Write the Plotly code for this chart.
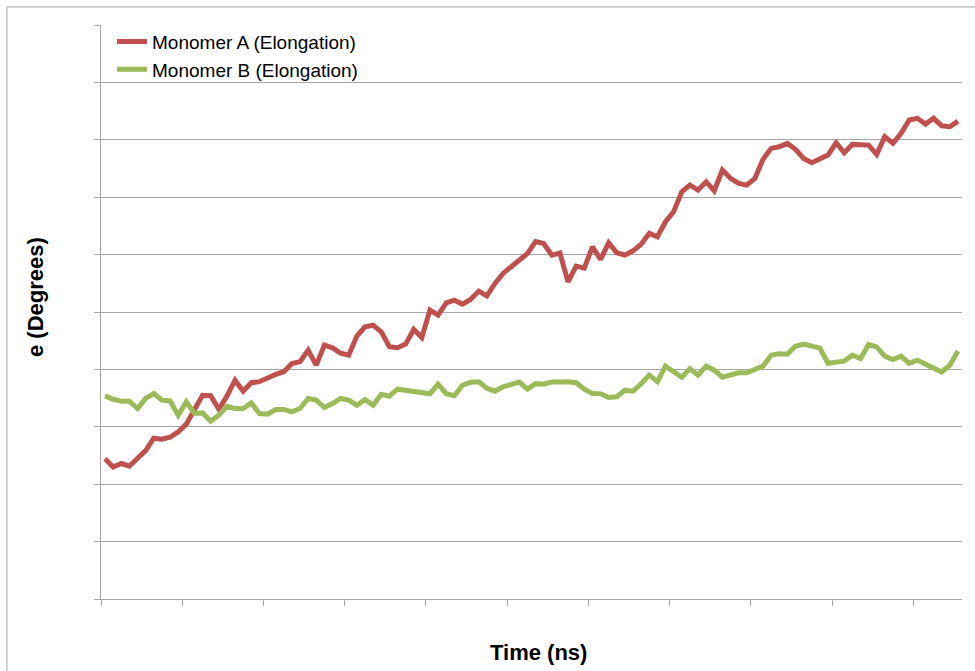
import plotly.graph_objects as go

# Time index (frames) along the category axis
time_idx = list(range(1, 107))

# Elongation angle e (degrees) per frame
monomer_a = [
    12.22, 11.50, 11.80, 11.57, 12.26, 12.92, 14.01, 13.92, 14.09, 14.55,
    15.23, 16.45, 17.75, 17.71, 16.53, 17.67, 19.06, 18.10, 18.84, 18.93,
    19.28, 19.56, 19.80, 20.52, 20.67, 21.67, 20.37, 22.11, 21.88, 21.41,
    21.24, 22.90, 23.71, 23.85, 23.27, 21.98, 21.89, 22.20, 23.48, 22.78,
    25.16, 24.73, 25.80, 26.03, 25.68, 26.09, 26.82, 26.41, 27.49, 28.36,
    28.94, 29.52, 30.09, 31.13, 30.97, 29.95, 30.13, 27.63, 29.00, 28.82,
    30.68, 29.58, 31.03, 30.16, 29.95, 30.33, 30.91, 31.85, 31.55, 32.86,
    33.73, 35.47, 36.05, 35.62, 36.34, 35.56, 37.36, 36.64, 36.20, 36.05,
    36.64, 38.30, 39.25, 39.39, 39.69, 39.17, 38.38, 38.00, 38.35, 38.67,
    39.74, 38.87, 39.60, 39.60, 39.54, 38.73, 40.26, 39.69, 40.56, 41.72,
    41.87, 41.37, 41.87, 41.22, 41.14, 41.63,
]

monomer_b = [
    17.69, 17.40, 17.23, 17.23, 16.59, 17.47, 17.90, 17.32, 17.26, 16.01,
    17.17, 16.16, 16.21, 15.49, 16.01, 16.79, 16.59, 16.59, 17.08, 16.16,
    16.10, 16.51, 16.51, 16.30, 16.59, 17.47, 17.32, 16.68, 17.03, 17.47,
    17.32, 16.88, 17.38, 16.88, 17.84, 17.67, 18.28, 18.19, 18.06, 17.93,
    17.88, 18.71, 17.88, 17.71, 18.62, 18.89, 18.93, 18.36, 18.10, 18.49,
    18.71, 18.89, 18.28, 18.76, 18.71, 18.91, 18.91, 18.93, 18.84, 18.28,
    17.90, 17.88, 17.55, 17.62, 18.19, 18.10, 18.76, 19.50, 18.93, 20.28,
    19.80, 19.32, 20.06, 19.50, 20.28, 19.93, 19.32, 19.50, 19.71, 19.71,
    20.02, 20.28, 21.24, 21.37, 21.33, 22.02, 22.20, 22.02, 21.85, 20.54,
    20.59, 20.72, 21.24, 20.95, 22.17, 21.96, 21.15, 20.86, 21.15, 20.52,
    20.80, 20.43, 20.17, 19.78, 20.37, 21.61,
]

series_names = ["Monomer A (Elongation)", "Monomer B (Elongation)"]
series_colors = ["#C0504D", "#9BBB59"]

x_ticks = [0.5 + 10 * k for k in range(11)]

GRID = "#a6a6a6"
FONT = "Liberation Sans, Arial, sans-serif"

fig = go.Figure()
for name, vals, col in zip(series_names, [monomer_a, monomer_b], series_colors):
    fig.add_trace(go.Scatter(
        x=time_idx, y=vals, mode="lines", name=name,
        line=dict(color=col, width=5),
    ))

fig.update_layout(
    width=975, height=671,
    margin=dict(l=101, r=13, t=25, b=72),
    paper_bgcolor="white", plot_bgcolor="white",
    font=dict(family=FONT, color="#000000"),
    showlegend=True,
    legend=dict(
        x=0.0128, y=1.004, xanchor="left", yanchor="top",
        bgcolor="rgba(0,0,0,0)", borderwidth=0,
        font=dict(family=FONT, size=19, color="#000000"),
    ),
    xaxis=dict(
        range=[0.5, 106.5], showgrid=False, zeroline=False,
        showline=True, linecolor=GRID, linewidth=1,
        tickmode="array", tickvals=x_ticks, showticklabels=False,
        ticks="outside", ticklen=6, tickcolor=GRID,
    ),
    yaxis=dict(
        range=[0, 50], dtick=5, tick0=0, showgrid=True, gridcolor=GRID, gridwidth=1,
        zeroline=False, showline=True, linecolor=GRID, linewidth=1,
        showticklabels=False, ticks="outside", ticklen=6, tickcolor=GRID,
    ),
    annotations=[
        dict(text="<b>e (Degrees)</b>", xref="paper", yref="paper",
             x=-0.0767, y=0.526, xanchor="center", yanchor="middle",
             textangle=-90, showarrow=False,
             font=dict(family=FONT, size=22, color="#000000")),
        dict(text="<b>Time (ns)</b>", xref="paper", yref="paper",
             x=0.5077, y=-0.0929, xanchor="center", yanchor="middle",
             showarrow=False,
             font=dict(family=FONT, size=22, color="#000000")),
    ],
    shapes=[
        dict(type="rect", xref="paper", yref="paper",
             x0=-0.1092, y0=-0.2, x1=1.05, y1=1.0314,
             line=dict(color=GRID, width=1), fillcolor="rgba(0,0,0,0)",
             layer="below"),
    ],
)

fig.write_html("out.html")
